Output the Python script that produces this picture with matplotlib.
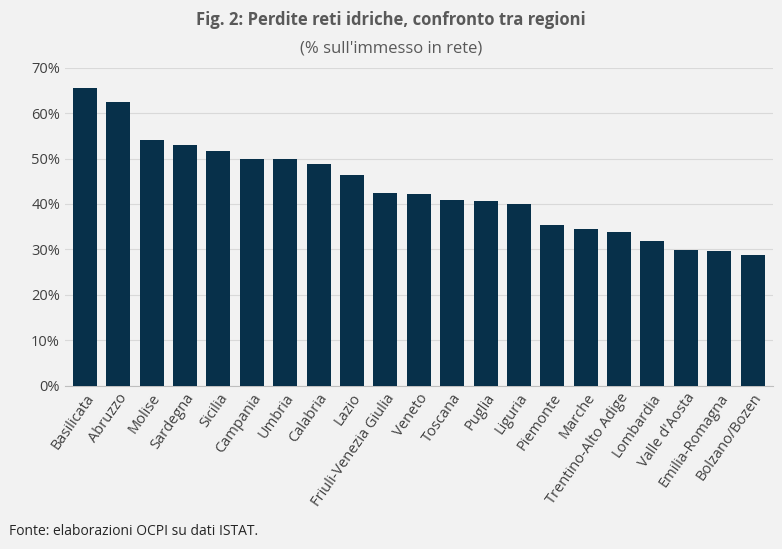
import matplotlib
matplotlib.use("Agg")
import matplotlib.pyplot as plt
from matplotlib.ticker import PercentFormatter

regions = ["Basilicata", "Abruzzo", "Molise", "Sardegna", "Sicilia", "Campania", "Umbria",
           "Calabria", "Lazio", "Friuli-Venezia Giulia", "Veneto", "Toscana", "Puglia", "Liguria",
           "Piemonte", "Marche", "Trentino-Alto Adige", "Lombardia", "Valle d'Aosta",
           "Emilia-Romagna", "Bolzano/Bozen"]
losses = [65.6, 62.5, 54.0, 52.9, 51.6, 50.0, 49.8, 48.7, 46.3, 42.4, 42.1, 40.8, 40.6, 39.9,
          35.3, 34.5, 33.8, 31.8, 29.8, 29.6, 28.7]

plt.rcParams['font.family'] = ['Open Sans', 'DejaVu Sans']
bg = "#f2f2f2"
fig = plt.figure(figsize=(7.82, 5.49), dpi=100, facecolor=bg)
ax = fig.add_axes([0.083, 0.297, 0.905, 0.58], facecolor=bg)

ax.bar(range(len(regions)), losses, width=0.72, color="#07304a", zorder=3)
ax.set_ylim(0, 70)
ax.set_xlim(-0.6, len(regions) - 0.4)
ax.set_yticks(range(0, 71, 10))
ax.yaxis.set_major_formatter(PercentFormatter(decimals=0))
ax.grid(axis="y", color="#d9d9d9", linewidth=0.8, zorder=0)
ax.set_xticks(range(len(regions)))
ax.set_xticklabels(regions, rotation=55, ha="right", rotation_mode="anchor", fontsize=10.5, color="#404040")
ax.tick_params(axis="y", labelsize=10.5, colors="#404040", length=0)
ax.tick_params(axis="x", length=0)
for s in ["top", "right", "left"]:
    ax.spines[s].set_visible(False)
ax.spines["bottom"].set_color("#bfbfbf")

fig.text(0.5, 0.955, "Fig. 2: Perdite reti idriche, confronto tra regioni", ha="center",
         fontsize=12, fontweight="bold", color="#595959")
fig.text(0.5, 0.905, "(% sull'immesso in rete)", ha="center", fontsize=12, color="#595959")
fig.text(0.012, 0.025, "Fonte: elaborazioni OCPI su dati ISTAT.", fontsize=10, color="#262626")

fig.savefig("out.png", dpi=100, facecolor=bg)
